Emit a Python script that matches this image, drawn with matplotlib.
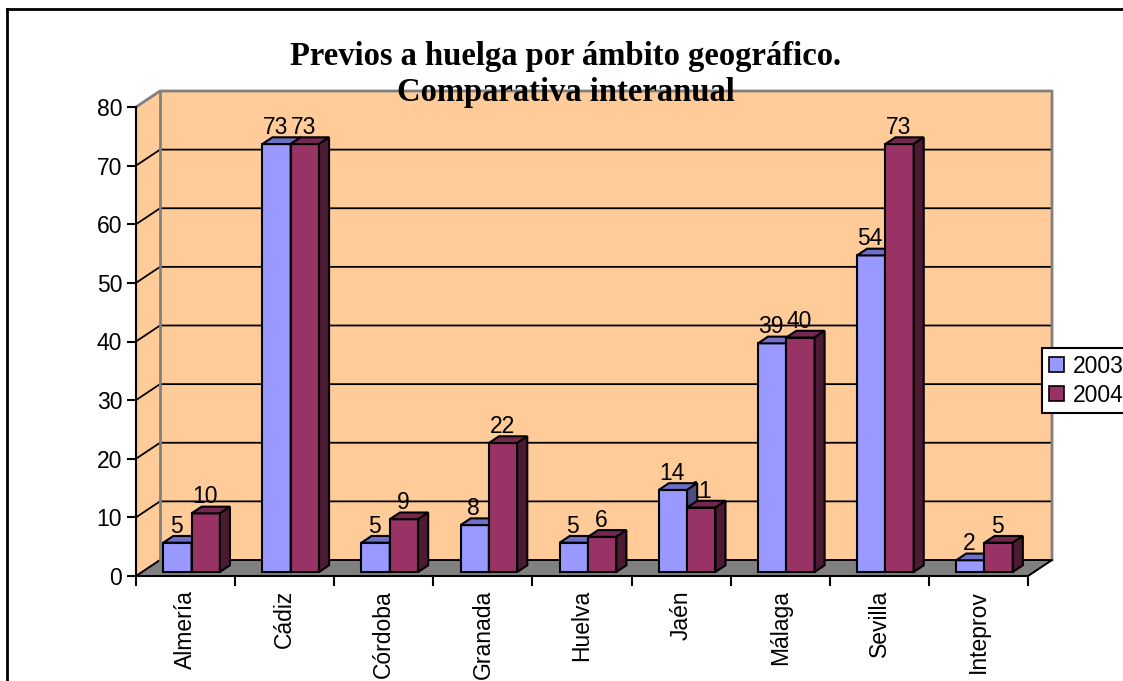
# grafico de barras 3d (estilo excel) con previos a huelga por provincia
import numpy as np
import matplotlib.pyplot as plt
import matplotlib.transforms as mtransforms
from matplotlib.patches import Polygon, Patch
from matplotlib.lines import Line2D

# datos
provincias = ['Almería', 'Cádiz', 'Córdoba', 'Granada', 'Huelva', 'Jaén', 'Málaga', 'Sevilla', 'Inteprov']
valores_2003 = [5, 73, 5, 8, 5, 14, 39, 54, 2]
valores_2004 = [10, 73, 9, 22, 6, 11, 40, 73, 5]
series = ['2003', '2004']
ticks_y = [0, 10, 20, 30, 40, 50, 60, 70, 80]

# colores (frente, arriba, lado)
colores = {'2003': ('#9999FF', '#6F6FC8', '#4D4D80'),
           '2004': ('#993366', '#75284F', '#4D1A33')}
pared = '#FFCC99'
suelo = '#808080'

W, H = 1123, 681
plt.rcParams['font.family'] = ['Liberation Sans', 'DejaVu Sans']
fig = plt.figure(figsize=(W / 100, H / 100), dpi=100)
ax = fig.add_axes([136 / W, 1 - 576 / H, 892 / W, 469 / H])
ax.set_xlim(-0.5, len(provincias) - 0.5)
ax.set_ylim(0, 80)
ax.patch.set_visible(False)

# desplazamiento de profundidad en pixeles
PROF = (24, 16)


def punto(x, v, z):
    px, py = ax.transData.transform((x, v))
    return (px + PROF[0] * z, py + PROF[1] * z)


def poligono(pts, zorder, **kw):
    p = Polygon(pts, closed=True, transform=mtransforms.IdentityTransform(),
                clip_on=False, zorder=zorder, **kw)
    ax.add_artist(p)


def linea(pts, color, lw, zorder):
    xs, ys = zip(*pts)
    ax.add_artist(Line2D(xs, ys, transform=mtransforms.IdentityTransform(),
                         color=color, lw=lw, zorder=zorder, clip_on=False))


x_ini, x_fin = -0.5, len(provincias) - 0.5
# paredes
poligono([punto(x_ini, 0, 0), punto(x_ini, 80, 0), punto(x_ini, 80, 1), punto(x_ini, 0, 1)], 0.5,
         facecolor=pared, edgecolor='none')
poligono([punto(x_ini, 0, 1), punto(x_fin, 0, 1), punto(x_fin, 80, 1), punto(x_ini, 80, 1)], 0.5,
         facecolor=pared, edgecolor='none')
# suelo
poligono([punto(x_ini, 0, 0), punto(x_fin, 0, 0), punto(x_fin, 0, 1), punto(x_ini, 0, 1)], 0.6,
         facecolor=suelo, edgecolor='black', lw=1)
# rejilla
for v in ticks_y[:-1]:
    linea([punto(x_ini, v, 0), punto(x_ini, v, 1), punto(x_fin, v, 1)], 'black', 1.3, 0.7)
linea([punto(x_ini, 80, 0), punto(x_ini, 80, 1), punto(x_fin, 80, 1), punto(x_fin, 0, 1)], '#808080', 2, 0.7)
linea([punto(x_ini, 0, 1), punto(x_ini, 80, 1)], '#808080', 2, 0.7)
linea([punto(x_fin, 0, 0), punto(x_fin, 0, 1)], 'black', 1.3, 0.8)

# barras
n = len(provincias)
ancho = 1 / 3.5
zf, zb = 0.25, 0.67
idx = np.arange(n)
desp = mtransforms.Affine2D().translate(PROF[0] * zf, PROF[1] * zf)
for k, (nombre, vals) in enumerate(zip(series, [valores_2003, valores_2004])):
    frente, arriba, lado = colores[nombre]
    x0s = idx - ancho + k * ancho
    ax.bar(x0s, vals, width=ancho, align='edge', color=frente, edgecolor='black',
           linewidth=1.5, transform=ax.transData + desp, zorder=3 + k)
    for x0, v in zip(x0s, vals):
        x1 = x0 + ancho
        poligono([punto(x0, v, zf), punto(x1, v, zf), punto(x1, v, zb), punto(x0, v, zb)], 3 + k,
                 facecolor=arriba, edgecolor='black', lw=1.5)
        poligono([punto(x1, 0, zf), punto(x1, v, zf), punto(x1, v, zb), punto(x1, 0, zb)], 3 + k,
                 facecolor=lado, edgecolor='black', lw=1.5)
        ax.annotate(str(v), xy=(x0 + ancho / 2, v), xytext=(5, 14), textcoords='offset pixels',
                    ha='center', va='baseline', fontsize=16.5, zorder=2)

# ejes
for s in ['top', 'right']:
    ax.spines[s].set_visible(False)
ax.spines['left'].set_linewidth(1.5)
ax.spines['bottom'].set_linewidth(1.5)
ax.spines['left'].set_zorder(5)
ax.set_yticks(ticks_y)
ax.tick_params(axis='y', direction='out', length=6.5, width=1.5, pad=3.5, labelsize=16.5)
ax.set_xticks(np.arange(n + 1) - 0.5)
ax.set_xticklabels([])
ax.tick_params(axis='x', which='major', direction='out', length=7, width=1.5)
ax.set_xticks(idx, minor=True)
ax.set_xticklabels(provincias, minor=True, rotation=90, fontsize=16.5)
ax.tick_params(axis='x', which='minor', length=0, pad=10)

# titulo
fig.text(566 / W, 1 - 56 / H, 'Previos a huelga por ámbito geográfico.', ha='center', va='center',
         fontsize=23.5, fontweight='bold', family='Liberation Serif', zorder=10)
fig.text(566 / W, 1 - 93 / H, 'Comparativa interanual', ha='center', va='center',
         fontsize=23.5, fontweight='bold', family='Liberation Serif', zorder=10)

# leyenda
manejadores = [Patch(facecolor=colores[s][0], edgecolor='black', linewidth=1.2, label=s) for s in series]
leg = fig.legend(handles=manejadores, loc='upper left', bbox_to_anchor=(1042 / W, 1 - 348 / H),
                 fontsize=16.5, frameon=True, fancybox=False, edgecolor='black', framealpha=1,
                 handlelength=0.65, handleheight=0.65, handletextpad=0.4, borderpad=0.3,
                 labelspacing=0.25, borderaxespad=0)
leg.get_frame().set_linewidth(1.5)

# marco
fig.add_artist(Line2D([7 / W, 1.01], [1 - 9 / H, 1 - 9 / H], transform=fig.transFigure, color='black', lw=2))
fig.add_artist(Line2D([7 / W, 7 / W], [1 - 9 / H, -0.01], transform=fig.transFigure, color='black', lw=2))

fig.savefig('out.png', dpi=100)
